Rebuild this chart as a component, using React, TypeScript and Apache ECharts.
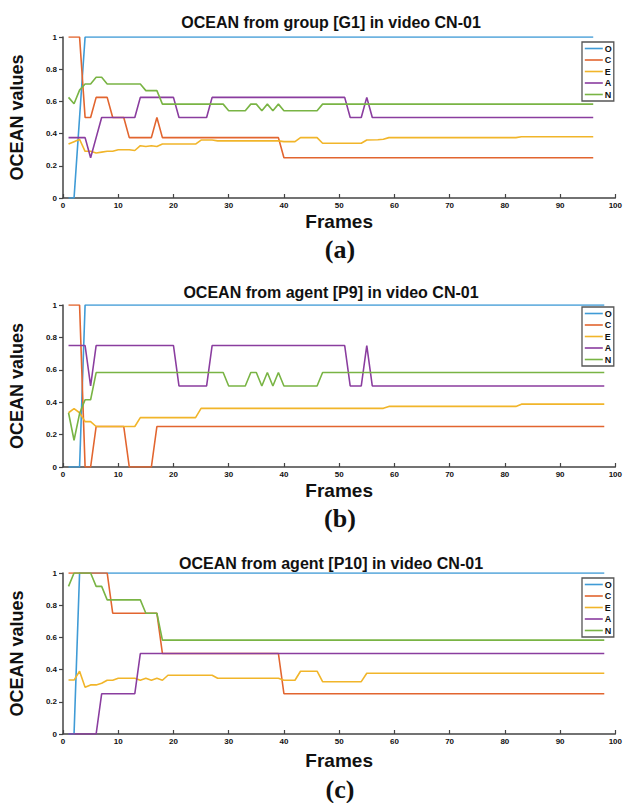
import React, { useEffect, useRef } from "react";
import * as echarts from "echarts";

const traitNames = ["O", "C", "E", "A", "N"];
const traitColors = ["#3f9bd6", "#e2652f", "#f1b52a", "#8a3d9f", "#79b444"];

const panelTitles = [
  "OCEAN from group [G1] in video CN-01",
  "OCEAN from agent [P9] in video CN-01",
  "OCEAN from agent [P10] in video CN-01",
];
const panelTags = ["(a)", "(b)", "(c)"];
const xTicks = [0, 100, 10];
const yTicks = [0, 1, 0.2];

// [frame, value] vertices
const oA = [[1, 0], [2, 0], [3, 0.5], [4, 1], [96, 1]];
const cA = [[1, 1], [3, 1], [4, 0.5], [5, 0.5], [6, 0.625], [8, 0.625], [9, 0.5], [11, 0.5], [12, 0.375], [16, 0.375], [17, 0.5], [18, 0.375], [39, 0.375], [40, 0.25], [96, 0.25]];
const eA = [[1, 0.335], [2, 0.35], [3, 0.365], [4, 0.29], [5, 0.29], [6, 0.28], [7, 0.285], [8, 0.29], [9, 0.29], [10, 0.3], [12, 0.3], [13, 0.295], [14, 0.325], [15, 0.32], [16, 0.325], [17, 0.32], [18, 0.335], [24, 0.335], [25, 0.36], [27, 0.36], [28, 0.355], [39, 0.355], [40, 0.35], [42, 0.35], [43, 0.375], [46, 0.375], [47, 0.34], [54, 0.34], [55, 0.36], [57, 0.362], [58, 0.365], [59, 0.375], [82, 0.375], [83, 0.38], [96, 0.38]];
const aA = [[1, 0.375], [4, 0.375], [5, 0.25], [6, 0.375], [7, 0.5], [13, 0.5], [14, 0.625], [20, 0.625], [21, 0.5], [26, 0.5], [27, 0.625], [51, 0.625], [52, 0.5], [54, 0.5], [55, 0.625], [56, 0.5], [96, 0.5]];
const nA = [[1, 0.625], [2, 0.585], [3, 0.67], [4, 0.708], [5, 0.708], [6, 0.75], [7, 0.75], [8, 0.708], [14, 0.708], [15, 0.667], [17, 0.667], [18, 0.583], [29, 0.583], [30, 0.542], [33, 0.542], [34, 0.583], [35, 0.583], [36, 0.542], [37, 0.583], [38, 0.542], [39, 0.583], [40, 0.542], [46, 0.542], [47, 0.583], [96, 0.583]];

const oB = [[1, 0], [3, 0], [4, 1], [98, 1]];
const cB = [[1, 1], [3, 1], [4, 0], [5, 0], [6, 0.25], [11, 0.25], [12, 0], [16, 0], [17, 0.25], [98, 0.25]];
const eB = [[1, 0.335], [2, 0.36], [3, 0.335], [4, 0.28], [5, 0.28], [6, 0.25], [13, 0.25], [14, 0.305], [24, 0.305], [25, 0.362], [58, 0.362], [59, 0.374], [82, 0.374], [83, 0.388], [98, 0.388]];
const aB = [[1, 0.75], [4, 0.75], [5, 0.5], [6, 0.75], [20, 0.75], [21, 0.5], [26, 0.5], [27, 0.75], [51, 0.75], [52, 0.5], [54, 0.5], [55, 0.75], [56, 0.5], [98, 0.5]];
const nB = [[1, 0.335], [2, 0.165], [3, 0.33], [4, 0.415], [5, 0.415], [6, 0.583], [29, 0.583], [30, 0.5], [33, 0.5], [34, 0.583], [35, 0.583], [36, 0.5], [37, 0.583], [38, 0.5], [39, 0.583], [40, 0.5], [46, 0.5], [47, 0.583], [98, 0.583]];

const oC = [[1, 0], [2, 0], [3, 1], [98, 1]];
const cC = [[1, 1], [8, 1], [9, 0.75], [17, 0.75], [18, 0.5], [39, 0.5], [40, 0.25], [98, 0.25]];
const eC = [[1, 0.335], [2, 0.335], [3, 0.39], [4, 0.29], [5, 0.305], [6, 0.305], [7, 0.315], [8, 0.334], [9, 0.334], [10, 0.346], [13, 0.346], [14, 0.334], [15, 0.346], [16, 0.334], [17, 0.346], [18, 0.334], [19, 0.365], [27, 0.365], [28, 0.346], [39, 0.346], [40, 0.334], [42, 0.334], [43, 0.39], [46, 0.39], [47, 0.325], [54, 0.325], [55, 0.377], [98, 0.377]];
const aC = [[1, 0], [6, 0], [7, 0.25], [13, 0.25], [14, 0.5], [98, 0.5]];
const nC = [[1, 0.917], [2, 1], [5, 1], [6, 0.917], [7, 0.917], [8, 0.833], [14, 0.833], [15, 0.75], [17, 0.75], [18, 0.583], [98, 0.583]];

const panelData = [
  [oA, cA, eA, aA, nA],
  [oB, cB, eB, aB, nB],
  [oC, cC, eC, aC, nC],
];

const FONT = "Arial, 'Liberation Sans', sans-serif";

const grids = [
  { left: 57, top: 37, width: 561, height: 161 },
  { left: 56, top: 305, width: 562, height: 162 },
  { left: 56, top: 573, width: 562, height: 161 },
];
const titleTops = [9, 279, 550];
const xNameGaps = [14, 14, 17];
const tagYs = [249, 518, 789];
const legendTops = [42, 307, 578];

export default function App() {
  const ref = useRef<HTMLDivElement>(null);
  useEffect(() => {
    if (!ref.current) return;
    const chart = echarts.init(ref.current, null, { renderer: "svg" });
    const series: any[] = [];
    panelData.forEach((sets, p) => {
      sets.forEach((d, i) => {
        series.push({
          type: "line",
          name: traitNames[i],
          xAxisIndex: p,
          yAxisIndex: p,
          data: d,
          symbol: "none",
          color: traitColors[i],
          lineStyle: { width: 1.6, color: traitColors[i] },
        });
      });
    });
    const option: any = {
      animation: false,
      backgroundColor: "#ffffff",
      title: panelTitles.map((t, p) => ({
        text: t,
        left: 326,
        top: titleTops[p],
        textAlign: "center",
        textStyle: { fontSize: 16, fontWeight: "bold", fontFamily: FONT, color: "#111" },
      })),
      grid: grids.map((g) => ({ ...g, containLabel: false })),
      xAxis: grids.map((_, p) => ({
        type: "value",
        gridIndex: p,
        min: xTicks[0],
        max: xTicks[1],
        interval: xTicks[2],
        name: "Frames",
        nameLocation: "middle",
        nameGap: xNameGaps[p],
        nameTextStyle: { fontSize: 19, fontWeight: "bold", fontFamily: FONT, color: "#111" },
        axisLine: { show: true, onZero: false, lineStyle: { color: "#444", width: 1.5 } },
        axisTick: { show: true, inside: true, length: 4, lineStyle: { color: "#444", width: 1.2 } },
        axisLabel: { fontSize: 8, fontWeight: "bold", fontFamily: FONT, color: "#111", margin: 3 },
        splitLine: { show: false },
      })),
      yAxis: grids.map((_, p) => ({
        type: "value",
        gridIndex: p,
        min: yTicks[0],
        max: yTicks[1],
        interval: yTicks[2],
        name: "OCEAN values",
        nameLocation: "middle",
        nameGap: 37,
        nameTextStyle: { fontSize: 18, fontWeight: "bold", fontFamily: FONT, color: "#111" },
        axisLine: { show: true, onZero: false, lineStyle: { color: "#444", width: 1.5 } },
        axisTick: { show: true, inside: false, length: 4, lineStyle: { color: "#444", width: 1.2 } },
        axisLabel: {
          fontSize: 8,
          fontWeight: "bold",
          fontFamily: FONT,
          color: "#111",
          margin: 6,
          formatter: (v: number) => String(Math.round(v * 10) / 10),
        },
        splitLine: { show: false },
      })),
      legend: legendTops.map((t) => ({
        orient: "vertical",
        left: 582,
        top: t,
        data: traitNames,
        itemWidth: 18,
        itemHeight: 9,
        itemGap: 2.5,
        padding: [2, 2, 2, 2],
        borderColor: "#555",
        borderWidth: 1.3,
        backgroundColor: "#fff",
        itemStyle: { opacity: 0 },
        lineStyle: { width: 1.6 },
        textStyle: { fontSize: 9, fontWeight: "bold", fontFamily: FONT, color: "#111", padding: [0, 0, 0, -3] },
        selectedMode: false,
      })),
      graphic: panelTags.map((t, p) => ({
        type: "text",
        x: 340,
        y: tagYs[p],
        style: {
          text: t,
          fontSize: 26,
          fontWeight: "bold",
          fontFamily: "'Times New Roman', 'Liberation Serif', serif",
          fill: "#111",
          textAlign: "center",
          verticalAlign: "middle",
        },
      })),
      series,
    };
    chart.setOption(option);
    return () => chart.dispose();
  }, []);
  return (
    <div
      ref={ref}
      style={{ position: "fixed", left: 0, top: 0, width: 625, height: 803, background: "#fff" }}
    />
  );
}
